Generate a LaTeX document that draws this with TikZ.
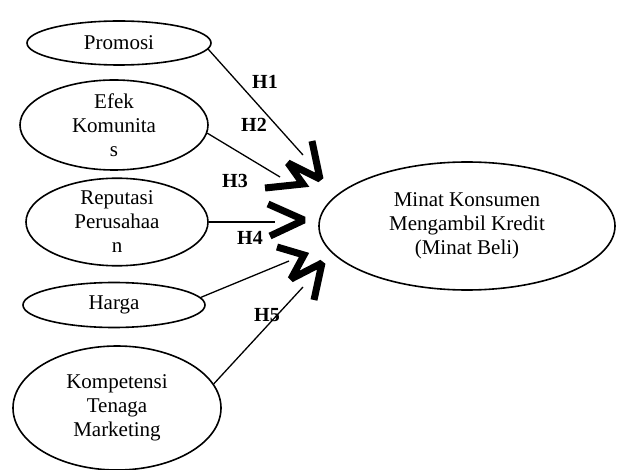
\documentclass[tikz,border=0pt]{standalone}
\usepackage{fontspec}
\setmainfont{Liberation Serif}
\usetikzlibrary{shapes.geometric}

\begin{document}
\begin{tikzpicture}[x=1pt,y=-1pt]
	\tikzstyle{every node}=[font=\fontsize{21}{24}\selectfont, align=center]
	\tikzstyle{var}=[draw, ellipse, line width=1.6pt, inner sep=0pt]
	\tikzstyle{hyp}=[font=\fontsize{20}{24}\selectfont\bfseries]
	\tikzstyle{head}=[line width=7pt, line join=miter, miter limit=2]
	\useasboundingbox (0,0) rectangle (621,470);
	\clip (0,0) rectangle (621,470);
	% variabel bebas
	\draw (119,43) node (prom) [var, minimum width=184pt, minimum height=44pt] {Promosi};
	\draw (114,125) node (efek) [var, minimum width=188pt, minimum height=90pt] {Efek\\Komunita\\s};
	\draw (117,222) node (rep) [var, minimum width=182pt, minimum height=82pt] {Reputasi\\Perusahaa\\n};
	\draw (114,305) node (harga) [var, minimum width=182pt, minimum height=45pt] {Harga};
	\draw (117,408) node (komp) [var, minimum width=208pt, minimum height=124pt] {Kompetensi\\Tenaga\\Marketing};
	% variabel terikat
	\draw (467,226) node (minat) [var, minimum width=296pt, minimum height=128pt] {Minat Konsumen\\Mengambil Kredit\\(Minat Beli)};
	\coordinate (e1) at (303,155);
	\coordinate (e2) at (280,177);
	\coordinate (e3) at (275,222);
	\coordinate (e4) at (289,261);
	\coordinate (e5) at (303,287);
	\draw[line width=1.3pt] (prom.-4) -- (e1);
	\draw[line width=1.3pt] (efek.-5) -- (e2);
	\draw[line width=1.3pt] (rep.east) -- (e3);
	\draw[line width=1.3pt] (harga.5) -- (e4);
	\draw[line width=1.3pt] (komp.14) -- (e5);
	% kepala panah
	\draw[head] (265,188) -- (303,184) -- (288,163) -- (320,179) -- (312,141);
	\draw[head] (268,204) -- (304,220) -- (270,236);
	\draw[head] (277,247) -- (304,255) -- (291,279) -- (322,263) -- (314,300);
	\node (h1) [hyp] at (265,82) {H1};
	\node (h2) [hyp] at (254,125) {H2};
	\node (h3) [hyp] at (235,181) {H3};
	\node (h4) [hyp] at (250,238) {H4};
	\node (h5) [hyp] at (267,315) {H5};
\end{tikzpicture}
\end{document}
